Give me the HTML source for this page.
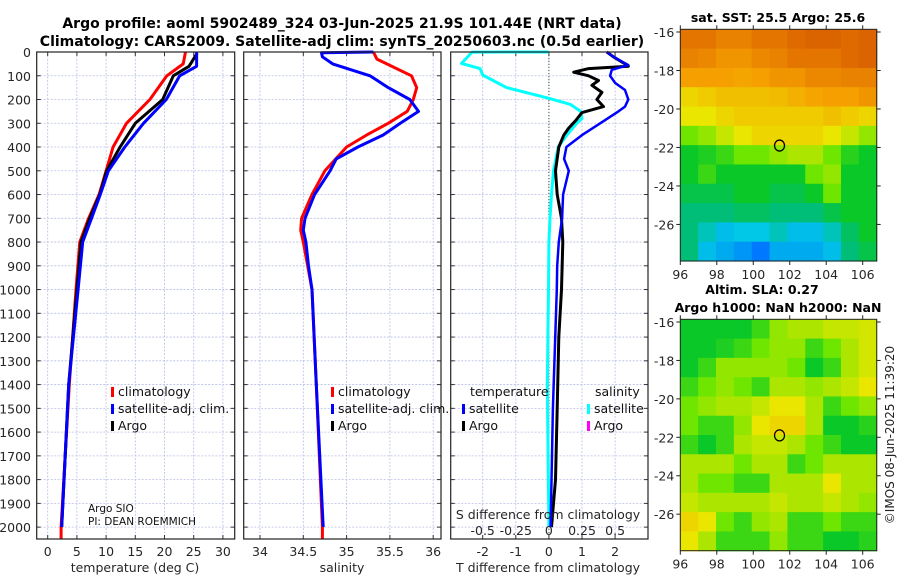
<!DOCTYPE html>
<html><head><meta charset="utf-8">
<style>
html,body{margin:0;padding:0;background:#fff;}
svg{display:block;font-family:"DejaVu Sans","Liberation Sans",sans-serif;}
</style></head>
<body>
<svg id="chart" width="900" height="580" viewBox="0 0 900 580">
<text x="342" y="28" text-anchor="middle" font-size="14" font-weight="bold">Argo profile: aoml 5902489_324 03-Jun-2025 21.9S 101.44E (NRT data)</text>
<text x="342" y="46" text-anchor="middle" font-size="14" font-weight="bold">Climatology: CARS2009. Satellite-adj clim: synTS_20250603.nc (0.5d earlier)</text>
<text x="778" y="22" text-anchor="middle" font-size="12.5" font-weight="bold">sat. SST: 25.5 Argo: 25.6</text>
<text x="762" y="294" text-anchor="middle" font-size="12.5" font-weight="bold">Altim. SLA: 0.27</text>
<text x="778" y="312" text-anchor="middle" font-size="12.5" font-weight="bold">Argo h1000: NaN h2000: NaN</text>
<text transform="translate(894,435) rotate(-90)" text-anchor="middle" font-size="12" fill="#222">©IMOS 08-Jun-2025 11:39:20</text>
<g id="plots"></g>
</svg>
<script>
// ---------- data ----------
const tClimDepth = [0,50,100,200,300,400,500,600,700,800,1000,1400,2000,2050];
const tClimVal   = [23.6,23.2,20.4,17.5,13.5,11.2,10.0,8.8,7.0,5.5,4.85,3.7,2.3,2.3];
const tSatDepth  = [0,60,100,200,300,400,500,600,700,800,1000,1400,2000];
const tSatVal    = [25.5,25.5,22.6,20.3,16.4,13.2,10.4,9.0,7.5,6.0,5.2,3.6,2.4];
const tArgoDepth = [5,60,100,200,300,400,500,600,700,800,1000,1400,2000];
const tArgoVal   = [25.6,24.2,21.5,19.7,15.0,12.4,10.1,8.9,7.2,5.7,5.0,3.6,2.4];

const sClimDepth = [0,30,100,150,200,250,300,350,400,500,600,700,750,800,1000,1400,2000,2050];
const sClimVal   = [35.31,35.35,35.75,35.81,35.77,35.7,35.48,35.23,35.0,34.75,34.6,34.48,34.47,34.5,34.6,34.65,34.72,34.72];
const sSatDepth  = [0,3,20,50,100,150,200,250,300,350,400,450,500,600,700,750,800,900,1000,1400,2000];
const sSatVal    = [35.31,34.71,34.72,34.84,35.27,35.48,35.73,35.83,35.62,35.42,35.13,34.88,34.81,34.63,34.52,34.5,34.53,34.56,34.6,34.65,34.73];

const dTSatDepth = [0,20,55,75,100,130,160,200,230,250,300,350,400,450,500,600,700,800,900,1000,1500,2000];
const dTSatVal   = [1.75,1.95,2.4,1.9,1.85,2.0,2.3,2.4,2.3,2.1,1.55,1.0,0.53,0.46,0.6,0.43,0.4,0.3,0.25,0.24,0.12,0.05];
const dTArgoDepth = [0,20,50,60,70,85,100,120,140,170,200,230,255,290,320,350,400,500,600,700,800,1000,1200,1500,1800,2000];
const dTArgoVal   = [1.75,1.95,2.3,2.4,1.2,0.75,1.2,1.5,1.3,1.6,1.45,1.65,1.0,0.8,0.6,0.45,0.3,0.2,0.25,0.38,0.42,0.38,0.3,0.25,0.2,0.08];
const dSSatDepth = [0,0.5,48,70,97,150,195,220,250,280,300,350,400,500,600,700,800,1000,1400,2000];
const dSSatVal   = [0,-0.58,-0.66,-0.52,-0.5,-0.32,0,0.16,0.24,0.25,0.21,0.135,0.07,0.035,0.02,0.008,0,-0.003,-0.012,0];

const depthTicks = [0,100,200,300,400,500,600,700,800,900,1000,1100,1200,1300,1400,1500,1600,1700,1800,1900,2000];
const tTicks = [0,5,10,15,20,25,30];
const sTicks = [34,34.5,35,35.5,36];
const dTTicks = [-2,-1,0,1,2];
const dSTicks = [-0.5,-0.25,0,0.25,0.5];
const dSTickLabels = ["-0.5","-0.25","0","0.25","0.5"];
const lonTicks = [96,98,100,102,104,106];
const latTicks = [-16,-18,-20,-22,-24,-26];

// map values as colormap index 0..1, rows from -16 southwards, cols from 96 eastwards
const sstGrid = [
[0.85,0.85,0.83,0.83,0.85,0.85,0.87,0.88,0.88,0.87,0.88],
[0.83,0.82,0.80,0.80,0.82,0.83,0.85,0.85,0.85,0.87,0.88],
[0.78,0.78,0.78,0.77,0.78,0.80,0.80,0.82,0.82,0.83,0.83],
[0.68,0.70,0.72,0.72,0.72,0.73,0.75,0.77,0.78,0.78,0.80],
[0.65,0.65,0.68,0.70,0.70,0.70,0.70,0.70,0.72,0.70,0.68],
[0.55,0.58,0.62,0.65,0.68,0.68,0.68,0.68,0.65,0.62,0.58],
[0.45,0.47,0.50,0.55,0.55,0.58,0.60,0.60,0.55,0.48,0.45],
[0.45,0.50,0.45,0.45,0.45,0.45,0.45,0.55,0.58,0.45,0.45],
[0.42,0.42,0.42,0.45,0.45,0.42,0.42,0.45,0.55,0.45,0.45],
[0.38,0.38,0.38,0.40,0.40,0.38,0.38,0.38,0.42,0.45,0.45],
[0.38,0.35,0.32,0.33,0.33,0.35,0.32,0.32,0.35,0.40,0.45],
[0.38,0.32,0.30,0.28,0.25,0.30,0.30,0.30,0.32,0.38,0.42]];
const slaGrid = [
[0.45,0.45,0.45,0.45,0.50,0.58,0.60,0.60,0.62,0.62,0.63],
[0.45,0.45,0.47,0.50,0.55,0.58,0.58,0.50,0.55,0.60,0.63],
[0.45,0.50,0.58,0.58,0.58,0.58,0.55,0.45,0.50,0.60,0.63],
[0.50,0.55,0.58,0.55,0.50,0.60,0.60,0.58,0.60,0.62,0.65],
[0.55,0.58,0.60,0.60,0.62,0.65,0.65,0.60,0.50,0.55,0.58],
[0.55,0.50,0.50,0.58,0.65,0.68,0.68,0.60,0.45,0.45,0.48],
[0.50,0.45,0.50,0.60,0.62,0.62,0.60,0.55,0.50,0.45,0.45],
[0.60,0.60,0.60,0.55,0.60,0.60,0.50,0.55,0.60,0.60,0.60],
[0.60,0.55,0.55,0.50,0.50,0.60,0.60,0.60,0.65,0.60,0.60],
[0.62,0.60,0.60,0.60,0.60,0.62,0.60,0.60,0.62,0.60,0.58],
[0.68,0.65,0.55,0.50,0.58,0.60,0.50,0.50,0.55,0.50,0.50],
[0.65,0.60,0.50,0.50,0.50,0.58,0.50,0.50,0.45,0.45,0.48]];
const floatLon = 101.44;
const floatLat = -21.9;

// ---------- drawing ----------
const NS = "http://www.w3.org/2000/svg";
const root = document.getElementById('plots');
function mk(tag, attrs, parent){
  const e = document.createElementNS(NS, tag);
  for (const k in attrs) e.setAttribute(k, attrs[k]);
  (parent||root).appendChild(e);
  return e;
}
function txt(x,y,s,size,anchor,fill,parent){
  const t = mk('text',{x:x,y:y,'font-size':size,'text-anchor':anchor||'middle',fill:fill||'#262626'},parent);
  t.textContent = s; return t;
}
const Y0 = 52, Y1 = 539;
const yD = d => Y0 + (d/2050)*(Y1-Y0);
const xT = v => 47.7 + v*5.84;
const xS = v => 260 + (v-34)*86.6;
const xDT = v => 548.9 + v*33.1;
const xDS = v => xDT(v*4);

function panel(x0,x1,name){
  const g = mk('g',{});
  
  
  depthTicks.forEach(d=>{
    const l = mk('line',{x1:x0,x2:x1,y1:yD(d),y2:yD(d),stroke:'#b8bfe6','stroke-width':0.8,'stroke-dasharray':'2,1.5'},g);
    
    
    mk('line',{x1:x0,x2:x0+4,y1:yD(d),y2:yD(d),stroke:'#333'},g);
    mk('line',{x1:x1-4,x2:x1,y1:yD(d),y2:yD(d),stroke:'#333'},g);
  });
  return g;
}
function vgrid(g,xs){
  xs.forEach(x=>{
    const l = mk('line',{x1:x,x2:x,y1:Y0,y2:Y1,stroke:'#b8bfe6','stroke-width':0.8,'stroke-dasharray':'2,1.5'},g);
    
    
    mk('line',{x1:x,x2:x,y1:Y1-4,y2:Y1,stroke:'#333'},g);
    mk('line',{x1:x,x2:x,y1:Y0,y2:Y0+4,stroke:'#333'},g);
  });
}
function frame(g,x0,x1){
  const r = mk('rect',{x:x0,y:Y0,width:x1-x0,height:Y1-Y0,fill:'none',stroke:'#222','stroke-width':1.2},g);
  
  
}
function line(g,depths,vals,xf,color,w,name){
  const pts = depths.map((d,i)=>xf(vals[i]).toFixed(1)+','+yD(d).toFixed(1)).join(' ');
  const p = mk('polyline',{points:pts,fill:'none',stroke:color,'stroke-width':w,'stroke-linejoin':'round'},g);
  
  
}
function legendEntry(g,x,y,color,label){
  const r = mk('rect',{x:x,y:y-9,width:3,height:10,fill:color},g);
  
  
  const t = txt(x+7,y,label,12.5,'start','#111',g);
  
  
}

// Panel 1: temperature
const p1 = panel(36.7,234.7,'temperature-panel');
vgrid(p1, tTicks.map(xT));
line(p1,tClimDepth,tClimVal,xT,'#ff0000',3,'temperature-climatology-line');
line(p1,tArgoDepth,tArgoVal,xT,'#000',3,'temperature-argo-line');
line(p1,tSatDepth,tSatVal,xT,'#0000ff',3,'temperature-satellite-line');
frame(p1,36.7,234.7);
depthTicks.forEach(d=>{
  const t = txt(31,yD(d)+5,String(d),12.5,'end','#262626',p1);
  
  
});
tTicks.forEach(v=>{
  const t = txt(xT(v),556,String(v),12.5,'middle','#262626',p1);
  
  
});
txt(135,572,'temperature (deg C)',12.5,'middle','#262626',p1);
legendEntry(p1,111,396,'#ff0000','climatology');
legendEntry(p1,111,413,'#0000ff','satellite-adj. clim.');
legendEntry(p1,111,430,'#000','Argo');
txt(88,512,'Argo SIO',10.5,'start','#111',p1);
txt(88,525,'PI: DEAN ROEMMICH',10.5,'start','#111',p1);

// Panel 2: salinity
const p2 = panel(243.7,441,'salinity-panel');
vgrid(p2, sTicks.map(xS));
line(p2,sClimDepth,sClimVal,xS,'#ff0000',3,'salinity-climatology-line');
line(p2,sSatDepth,sSatVal,xS,'#0000ff',3,'salinity-satellite-line');
frame(p2,243.7,441);
sTicks.forEach(v=>{
  const t = txt(xS(v),556,String(v),12.5,'middle','#262626',p2);
  
  
});
txt(342,572,'salinity',12.5,'middle','#262626',p2);
legendEntry(p2,331,396,'#ff0000','climatology');
legendEntry(p2,331,413,'#0000ff','satellite-adj. clim.');
legendEntry(p2,331,430,'#000','Argo');

// Panel 3: differences
const p3 = panel(450.7,648,'difference-panel');
vgrid(p3, dTTicks.map(xDT));
const zl = mk('line',{x1:xDT(0),x2:xDT(0),y1:Y0,y2:Y1,stroke:'#335533','stroke-width':1,'stroke-dasharray':'1,2'},p3);


line(p3,dSSatDepth,dSSatVal,xDS,'#00ffff',3,'salinity-diff-satellite-line');
line(p3,dTArgoDepth,dTArgoVal,xDT,'#000',3,'temperature-diff-argo-line');
line(p3,dTSatDepth,dTSatVal,xDT,'#0000ff',2.5,'temperature-diff-satellite-line');
frame(p3,450.7,648);
dTTicks.forEach(v=>{
  const t = txt(xDT(v),556,String(v),12.5,'middle','#262626',p3);
  
  
});
dSTicks.forEach((v,i)=>{
  const t = txt(xDS(v),535,dSTickLabels[i],12.5,'middle','#262626',p3);
  
  
});
txt(548,519,'S difference from climatology',12.5,'middle','#262626',p3);
txt(548,572,'T difference from climatology',12.5,'middle','#262626',p3);
txt(470,396,'temperature',12.5,'start','#111',p3);
txt(595,396,'salinity',12.5,'start','#111',p3);
legendEntry(p3,462,413,'#0000ff','satellite');
legendEntry(p3,462,430,'#000','Argo');
legendEntry(p3,587,413,'#00ffff','satellite');
legendEntry(p3,587,430,'#ff00ff','Argo');

// ---------- maps ----------
const cmapStops = [0.25,0.33,0.38,0.45,0.55,0.65,0.78,0.88];
const cmapColors = [[0,120,255],[0,200,230],[0,190,120],[10,200,40],[110,230,0],[235,230,0],[245,160,0],[220,100,0]];
function cmap(v){
  if (v<=cmapStops[0]) return 'rgb('+cmapColors[0].join(',')+')';
  for (let i=1;i<cmapStops.length;i++){
    if (v<=cmapStops[i]){
      const f=(v-cmapStops[i-1])/(cmapStops[i]-cmapStops[i-1]);
      const a=cmapColors[i-1], b=cmapColors[i];
      return 'rgb('+a.map((c,k)=>Math.round(c+(b[k]-c)*f)).join(',')+')';
    }
  }
  return 'rgb('+cmapColors[cmapColors.length-1].join(',')+')';
}
function map(name, grid, top, bottom){
  const left = 680.3, right = 876.7;
  const xL = lon => left + (lon-96)*18.24;
  const yL = lat => top + 2.7 + (-16-lat)*((bottom-top-2.7)/(-16-(-27.9)));
  const g = mk('g',{});
  
  
  const cw = (right-left)/grid[0].length, ch = (bottom-top)/grid.length;
  grid.forEach((row,ri)=>row.forEach((v,ci)=>{
    const r = mk('rect',{x:(left+ci*cw).toFixed(2),y:(top+ri*ch).toFixed(2),width:(cw+0.6).toFixed(2),height:(ch+0.6).toFixed(2),fill:cmap(v)},g);
    
    
  }));
  mk('rect',{x:left,y:top,width:right-left,height:bottom-top,fill:'none',stroke:'#222','stroke-width':1},g);
  lonTicks.forEach(l=>{
    mk('line',{x1:xL(l),x2:xL(l),y1:bottom,y2:bottom+4,stroke:'#222'},g);
    mk('line',{x1:xL(l),x2:xL(l),y1:top,y2:top-4,stroke:'#222'},g);
    const t = txt(xL(l),bottom+18,String(l),12.5,'middle','#262626',g);
    
    
  });
  latTicks.forEach(l=>{
    mk('line',{x1:left-4,x2:left,y1:yL(l),y2:yL(l),stroke:'#222'},g);
    mk('line',{x1:right,x2:right+4,y1:yL(l),y2:yL(l),stroke:'#222'},g);
    const t = txt(left-6,yL(l)+5,String(l),12.5,'end','#262626',g);
    
    
  });
  const c = mk('ellipse',{cx:xL(floatLon),cy:yL(floatLat),rx:5,ry:5.5,fill:'none',stroke:'#000','stroke-width':1.3},g);
  
  
}
map('sst-map', sstGrid, 29.3, 261);
map('sla-map', slaGrid, 319.3, 550.7);
</script>
</body></html>
